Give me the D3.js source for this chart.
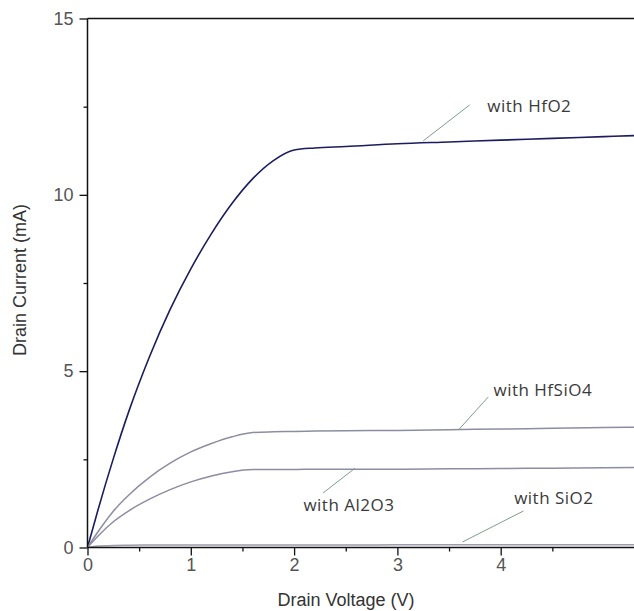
<!DOCTYPE html>
<html>
<head>
<meta charset="utf-8">
<script src="https://cdn.jsdelivr.net/npm/d3@7"></script>
<style>
  html, body { margin: 0; padding: 0; background: #fff; }
  svg { display: block; }
</style>
</head>
<body>
<svg id="chart" width="634" height="611"></svg>
<script>
// ---- Data ----
const voltage = [0, 0.1, 0.25, 0.4, 0.6, 0.8, 1.0, 1.2, 1.4, 1.6, 1.8, 2.0, 2.2, 2.5, 3.0, 3.5, 4.0, 4.5, 5.0, 5.3];
const currentHfO2   = [0, 1.05, 2.52, 3.86, 5.41, 6.75, 7.90, 8.90, 9.76, 10.46, 10.97, 11.27, 11.33, 11.37, 11.45, 11.50, 11.55, 11.60, 11.65, 11.68];
const currentHfSiO4 = [0, 0.44, 1.03, 1.49, 1.99, 2.39, 2.71, 2.95, 3.14, 3.26, 3.28, 3.29, 3.30, 3.31, 3.32, 3.34, 3.36, 3.38, 3.40, 3.41];
const currentAl2O3  = [0, 0.32, 0.73, 1.04, 1.37, 1.64, 1.86, 2.03, 2.15, 2.21, 2.215, 2.215, 2.22, 2.22, 2.22, 2.23, 2.24, 2.25, 2.26, 2.27];
const currentSiO2   = [0, 0.04, 0.06, 0.065, 0.07, 0.07, 0.07, 0.07, 0.07, 0.07, 0.07, 0.07, 0.07, 0.07, 0.075, 0.075, 0.075, 0.08, 0.08, 0.08];
const seriesNames = ["with HfO2", "with HfSiO4", "with Al2O3", "with SiO2"];
const xMajorTicks = [0, 1, 2, 3, 4];
const xMinorTicks = [0.5, 1.5, 2.5, 3.5, 4.5];
const yMajorTicks = [0, 5, 10, 15];
const yMinorTicks = [2.5, 7.5, 12.5];
const xTitle = "Drain Voltage (V)";
const yTitle = "Drain Current (mA)";

// ---- Layout ----
const svg = d3.select("#chart");
const x = d3.scaleLinear().domain([0, 5.3]).range([87.5, 87.5 + 5.3 * 103.3]);
const y = d3.scaleLinear().domain([0, 15]).range([547.5, 18.5]);

const series = [
  { name: seriesNames[0], values: currentHfO2,   color: "#1c1c60", width: 1.6 },
  { name: seriesNames[1], values: currentHfSiO4, color: "#8d8da2", width: 1.5 },
  { name: seriesNames[2], values: currentAl2O3,  color: "#8d8da2", width: 1.5 },
  { name: seriesNames[3], values: currentSiO2,   color: "#9c9cab", width: 1.5 }
];

// annotation placement (data coordinates): text anchor and leader line
const annotations = [
  { text: seriesNames[0], tx: 3.87, ty: 12.35, l: [[3.25, 11.53], [3.70, 12.55]] },
  { text: seriesNames[1], tx: 3.93, ty: 4.30,  l: [[3.59, 3.33],  [3.88, 4.27]] },
  { text: seriesNames[2], tx: 2.09, ty: 1.035, l: [[2.28, 1.545], [2.59, 2.25]] },
  { text: seriesNames[3], tx: 4.13, ty: 1.233, l: [[3.63, 0.156], [4.22, 1.035]] }
];

// ---- Curves ----
const line = d3.line()
  .x((d, i) => x(voltage[i]))
  .y(d => y(d))
  .curve(d3.curveMonotoneX);

svg.append("g").selectAll("path")
  .data(series)
  .join("path")
  .attr("d", d => line(d.values))
  .attr("fill", "none")
  .attr("stroke", d => d.color)
  .attr("stroke-width", d => d.width);

// ---- Axes ----
const axisColor = "#111";
const xAxis = d3.axisBottom(x).tickValues(xMajorTicks).tickSize(8).tickSizeOuter(0).tickFormat(d3.format("d"));
const gx = svg.append("g").attr("transform", `translate(0,${y(0)})`).call(xAxis);
gx.select(".domain").remove();
gx.append("line").attr("x1", x(0)).attr("x2", 634).attr("y1", 0).attr("y2", 0)
  .attr("stroke", axisColor).attr("stroke-width", 1.5);
gx.selectAll(".tick line").attr("stroke", axisColor).attr("stroke-width", 1.3);
gx.selectAll(".tick text").attr("dy", "0.75em").attr("y", 10)
  .attr("font-family", "Liberation Sans, Arial, sans-serif").attr("font-size", 18).attr("fill", "#555");

const xMinor = d3.axisBottom(x).tickValues(xMinorTicks).tickSize(4).tickFormat("");
const gxm = svg.append("g").attr("transform", `translate(0,${y(0)})`).call(xMinor);
gxm.select(".domain").remove();
gxm.selectAll(".tick line").attr("stroke", axisColor).attr("stroke-width", 1.3);

const yAxis = d3.axisLeft(y).tickValues(yMajorTicks).tickSize(8).tickSizeOuter(0).tickFormat(d3.format("d"));
const gy = svg.append("g").attr("transform", `translate(${x(0)},0)`).call(yAxis);
gy.select(".domain").remove();
gy.append("line").attr("x1", 0).attr("x2", 0).attr("y1", y(15)).attr("y2", y(0))
  .attr("stroke", axisColor).attr("stroke-width", 1.5);
gy.selectAll(".tick line").attr("stroke", axisColor).attr("stroke-width", 1.3);
gy.selectAll(".tick text").attr("x", -14)
  .attr("font-family", "Liberation Sans, Arial, sans-serif").attr("font-size", 18).attr("fill", "#555");

const yMinor = d3.axisLeft(y).tickValues(yMinorTicks).tickSize(4).tickFormat("");
const gym = svg.append("g").attr("transform", `translate(${x(0)},0)`).call(yMinor);
gym.select(".domain").remove();
gym.selectAll(".tick line").attr("stroke", axisColor).attr("stroke-width", 1.3);

// top frame line
svg.append("line").attr("x1", x(0)).attr("x2", 634).attr("y1", y(15)).attr("y2", y(15))
  .attr("stroke", axisColor).attr("stroke-width", 1.5);

// ---- Axis titles ----
svg.append("text").attr("x", 346).attr("y", 606).attr("text-anchor", "middle")
  .attr("font-family", "Liberation Sans, Arial, sans-serif").attr("font-size", 18).attr("fill", "#333")
  .text(xTitle);
svg.append("text").attr("transform", "translate(26,280) rotate(-90)").attr("text-anchor", "middle")
  .attr("font-family", "Liberation Sans, Arial, sans-serif").attr("font-size", 18).attr("fill", "#333")
  .text(yTitle);

// ---- Annotations ----
const ga = svg.append("g");
ga.selectAll("line")
  .data(annotations)
  .join("line")
  .attr("x1", d => x(d.l[0][0])).attr("y1", d => y(d.l[0][1]))
  .attr("x2", d => x(d.l[1][0])).attr("y2", d => y(d.l[1][1]))
  .attr("stroke", "#7e9e8a").attr("stroke-width", 1);
ga.selectAll("text")
  .data(annotations)
  .join("text")
  .attr("x", d => x(d.tx)).attr("y", d => y(d.ty))
  .attr("font-family", "Open Sans, sans-serif").attr("font-size", 17)
  .attr("letter-spacing", 0.5).attr("fill", "#3a3a3a")
  .text(d => d.text);
</script>
</body>
</html>
